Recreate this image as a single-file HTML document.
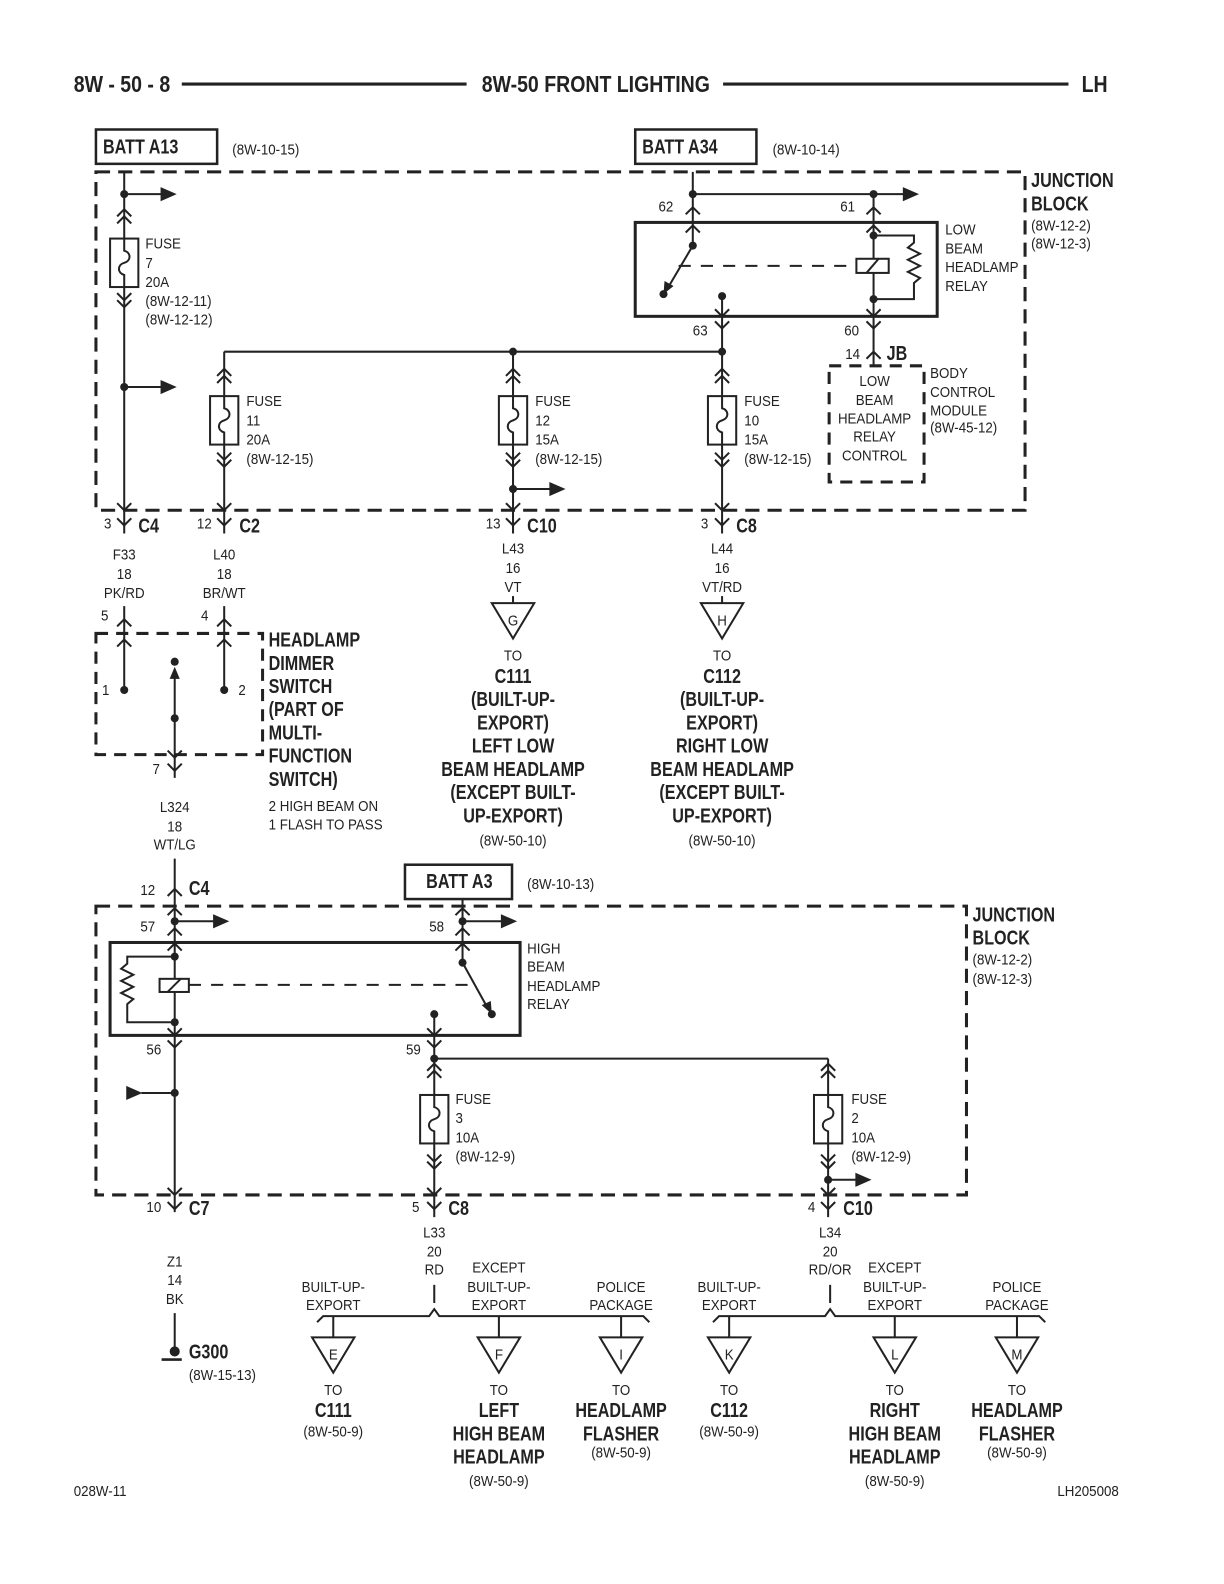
<!DOCTYPE html>
<html><head><meta charset="utf-8"><style>
html,body{margin:0;padding:0;background:#fff}
svg{display:block}
text{font-family:"Liberation Sans Narrow","Liberation Sans",sans-serif;fill:#222;transform-box:fill-box;transform-origin:0 50%;transform:scaleX(.88)}
text.c{transform-origin:50% 50%}
.s{font-size:15px}
.b text,text.b{font-size:20px;font-weight:bold;transform:scaleX(.8)}
text.h{font-size:23px;font-weight:bold;transform:scaleX(.84)}
.c{text-anchor:middle}
</style></head><body>
<svg width="1224" height="1584" viewBox="0 0 1212 1568" xmlns="http://www.w3.org/2000/svg">
<defs>
<path id="cu" d="M-7,7 L0,0 L7,7" fill="none" stroke="#222" stroke-width="2"/>
<path id="cd" d="M-7,-7 L0,0 L7,-7" fill="none" stroke="#222" stroke-width="2"/>
<g id="fz"><rect x="-14" y="-24" width="28" height="48" fill="#fff" stroke="#222" stroke-width="2"/><path d="M0,-24 V-12 C7,-10 7,-2 0,0 C-7,2 -7,10 0,12 V24" fill="none" stroke="#222" stroke-width="2"/></g>
<polygon id="ar" points="0,-7 16,0 0,7" fill="#222"/>
<polygon id="tri" points="-21,0 21,0 0,35" fill="#fff" stroke="#222" stroke-width="2"/>
</defs>
<g stroke="#222" fill="none" stroke-width="2">
<line x1="180" y1="83" x2="462" y2="83" stroke-width="3"/>
<line x1="716" y1="83" x2="1058" y2="83" stroke-width="3"/>
<rect x="95" y="128" width="120" height="34" stroke-width="2.5"/>
<rect x="629" y="128" width="120" height="34" stroke-width="2.5"/>
<rect x="95" y="170" width="920" height="335" stroke-width="3" stroke-dasharray="14 8"/>
<line x1="123" y1="170" x2="123" y2="528"/>
<line x1="123" y1="192" x2="160" y2="192"/><line x1="123" y1="383" x2="160" y2="383"/>
<line x1="222" y1="348" x2="715" y2="348"/>
<line x1="222" y1="348" x2="222" y2="528"/>
<line x1="508" y1="348" x2="508" y2="528"/>
<line x1="508" y1="484" x2="545" y2="484"/>
<line x1="715" y1="293" x2="715" y2="528"/>
<rect x="629" y="220" width="299" height="93" stroke-width="3"/>
<line x1="686" y1="170" x2="686" y2="243"/>
<line x1="686" y1="192" x2="895" y2="192"/>
<line x1="865" y1="192" x2="865" y2="362"/>
<line x1="686" y1="243" x2="660" y2="287"/>
<line x1="672" y1="263" x2="848" y2="263" stroke-dasharray="12 10"/>
<rect x="848" y="256" width="32" height="14" fill="#fff"/><line x1="858" y1="270" x2="870" y2="256"/>
<path d="M865,233 H905 V240 l-6,5 l12,6 l-12,6 l12,6 l-12,6 l12,6 l-6,5 V296 H865"/>
<rect x="821" y="362" width="94" height="115" stroke-width="3" stroke-dasharray="12 8"/>
<line x1="508" y1="590" x2="508" y2="597"/><line x1="715" y1="590" x2="715" y2="597"/>
<rect x="95" y="627" width="165" height="120" stroke-width="3" stroke-dasharray="12 8"/>
<line x1="123" y1="600" x2="123" y2="683"/><line x1="222" y1="600" x2="222" y2="683"/>
<line x1="173" y1="670" x2="173" y2="770"/>
<line x1="173" y1="850" x2="173" y2="1200"/>
<rect x="401" y="856" width="106" height="34" stroke-width="2.5"/>
<rect x="95" y="897" width="862" height="286" stroke-width="3" stroke-dasharray="14 8"/>
<rect x="109" y="933" width="406" height="92" stroke-width="3"/>
<line x1="173" y1="912" x2="212" y2="912"/>
<line x1="458" y1="890" x2="458" y2="953"/>
<line x1="458" y1="912" x2="497" y2="912"/>
<line x1="458" y1="953" x2="484" y2="1000"/>
<line x1="187" y1="975" x2="470" y2="975" stroke-dasharray="12 10"/>
<rect x="158" y="969" width="29" height="13" fill="#fff"/><line x1="166" y1="982" x2="179" y2="969"/>
<path d="M173,947 H126 V954 l-6,5 l12,6 l-12,6 l12,6 l-12,6 l12,6 l-6,5 V1012 H173"/>
<line x1="140" y1="1082" x2="173" y2="1082"/>
<line x1="430" y1="1004" x2="430" y2="1205"/>
<line x1="430" y1="1048" x2="820" y2="1048"/>
<line x1="820" y1="1048" x2="820" y2="1205"/>
<line x1="820" y1="1168" x2="848" y2="1168"/>
<line x1="173" y1="1300" x2="173" y2="1336"/>
<line x1="160" y1="1346" x2="180" y2="1346" stroke-width="2.5"/>
<line x1="430" y1="1272" x2="430" y2="1290"/><line x1="822" y1="1272" x2="822" y2="1290"/>
<path d="M314,1309 L320,1303 H425 L430,1296 L435,1303 H637 L643,1309"/>
<path d="M706,1309 L712,1303 H817 L822,1296 L827,1303 H1029 L1035,1309"/>
<line x1="330" y1="1303" x2="330" y2="1324"/><line x1="494" y1="1303" x2="494" y2="1324"/><line x1="615" y1="1303" x2="615" y2="1324"/>
<line x1="722" y1="1303" x2="722" y2="1324"/><line x1="886" y1="1303" x2="886" y2="1324"/><line x1="1007" y1="1303" x2="1007" y2="1324"/>
</g>
<use href="#fz" x="123" y="260"/><use href="#fz" x="222" y="416"/><use href="#fz" x="508" y="416"/><use href="#fz" x="715" y="416"/>
<use href="#fz" x="430" y="1108"/><use href="#fz" x="820" y="1108"/>
<use href="#cu" x="123" y="207"/><use href="#cu" x="123" y="214"/><use href="#cd" x="123" y="297"/><use href="#cd" x="123" y="304"/>
<use href="#cd" x="123" y="505"/><use href="#cd" x="123" y="520"/>
<g id="f4"><use href="#cu" x="222" y="365"/><use href="#cu" x="222" y="372"/><use href="#cd" x="222" y="455"/><use href="#cd" x="222" y="462"/><use href="#cd" x="222" y="505"/><use href="#cd" x="222" y="520"/></g>
<use href="#f4" x="286"/><use href="#f4" x="493"/>
<use href="#cu" x="686" y="205"/><use href="#cu" x="686" y="223"/><use href="#cu" x="865" y="205"/><use href="#cu" x="865" y="223"/>
<use href="#cd" x="715" y="313"/><use href="#cd" x="715" y="325"/><use href="#cd" x="865" y="313"/><use href="#cd" x="865" y="325"/>
<use href="#cu" x="865" y="348"/>
<use href="#cu" x="123" y="613"/><use href="#cu" x="123" y="633"/><use href="#cu" x="222" y="613"/><use href="#cu" x="222" y="633"/>
<use href="#cd" x="173" y="750"/><use href="#cd" x="173" y="763"/>
<use href="#cu" x="173" y="880"/>
<use href="#cu" x="173" y="899"/><use href="#cu" x="173" y="919"/><use href="#cu" x="173" y="934"/>
<use href="#cu" x="458" y="899"/><use href="#cu" x="458" y="919"/><use href="#cu" x="458" y="934"/>
<use href="#cd" x="173" y="1025"/><use href="#cd" x="173" y="1037"/><use href="#cd" x="430" y="1025"/><use href="#cd" x="430" y="1037"/>
<use href="#cu" x="430" y="1053"/><use href="#cu" x="430" y="1060"/><use href="#cd" x="430" y="1150"/><use href="#cd" x="430" y="1157"/>
<use href="#cu" x="820" y="1053"/><use href="#cu" x="820" y="1060"/><use href="#cd" x="820" y="1150"/><use href="#cd" x="820" y="1157"/>
<use href="#cd" x="173" y="1183"/><use href="#cd" x="173" y="1197"/><use href="#cd" x="430" y="1183"/><use href="#cd" x="430" y="1197"/><use href="#cd" x="820" y="1183"/><use href="#cd" x="820" y="1197"/>
<use href="#ar" x="159" y="192"/><use href="#ar" x="159" y="383"/><use href="#ar" x="544" y="484"/><use href="#ar" x="894" y="192"/>
<use href="#ar" x="211" y="912"/><use href="#ar" x="496" y="912"/><use href="#ar" x="847" y="1168"/>
<polygon points="125,1075 141,1082 125,1089" fill="#222"/>
<polygon points="173,660 168,672 178,672" fill="#222"/>
<polygon points="657,291 658,278 667,283" fill="#222"/>
<polygon points="487,1004 477,995 486,991" fill="#222"/>
<g fill="#222">
<circle cx="123" cy="192" r="4"/><circle cx="123" cy="383" r="4"/><circle cx="508" cy="348" r="4"/><circle cx="715" cy="348" r="4"/><circle cx="508" cy="484" r="4"/>
<circle cx="686" cy="192" r="4"/><circle cx="865" cy="192" r="4"/><circle cx="686" cy="243" r="4"/><circle cx="657" cy="291" r="4"/><circle cx="715" cy="293" r="4"/><circle cx="865" cy="233" r="4"/><circle cx="865" cy="296" r="4"/>
<circle cx="123" cy="683" r="4"/><circle cx="222" cy="683" r="4"/><circle cx="173" cy="655" r="4"/><circle cx="173" cy="711" r="4"/>
<circle cx="173" cy="912" r="4"/><circle cx="458" cy="912" r="4"/><circle cx="173" cy="947" r="4"/><circle cx="173" cy="1012" r="4"/><circle cx="458" cy="953" r="4"/><circle cx="487" cy="1004" r="4"/><circle cx="430" cy="1004" r="4"/>
<circle cx="430" cy="1048" r="4"/><circle cx="173" cy="1082" r="4"/><circle cx="820" cy="1168" r="4"/>
<circle cx="173" cy="1338" r="5"/>
</g>
<use href="#tri" x="508" y="597"/><use href="#tri" x="715" y="597"/>
<use href="#tri" x="330" y="1324"/><use href="#tri" x="494" y="1324"/><use href="#tri" x="615" y="1324"/>
<use href="#tri" x="722" y="1324"/><use href="#tri" x="886" y="1324"/><use href="#tri" x="1007" y="1324"/>

<text x="73" y="91" class="h">8W - 50 - 8</text>
<text x="590" y="91" class="h c">8W-50 FRONT LIGHTING</text>
<text x="1071" y="91" class="h">LH</text>
<text x="102" y="152" class="b">BATT A13</text><text x="230" y="153" class="s">(8W-10-15)</text>
<text x="636" y="152" class="b">BATT A34</text><text x="765" y="153" class="s">(8W-10-14)</text>
<text x="1021" y="185" class="b">JUNCTION</text><text x="1021" y="208" class="b">BLOCK</text>
<text x="1021" y="228" class="s">(8W-12-2)</text><text x="1021" y="246" class="s">(8W-12-3)</text>
<g class="s">
<text x="144" y="246">FUSE</text><text x="144" y="265">7</text><text x="144" y="284">20A</text><text x="144" y="303">(8W-12-11)</text><text x="144" y="321">(8W-12-12)</text>
<text x="244" y="402">FUSE</text><text x="244" y="421">11</text><text x="244" y="440">20A</text><text x="244" y="459">(8W-12-15)</text>
<text x="530" y="402">FUSE</text><text x="530" y="421">12</text><text x="530" y="440">15A</text><text x="530" y="459">(8W-12-15)</text>
<text x="737" y="402">FUSE</text><text x="737" y="421">10</text><text x="737" y="440">15A</text><text x="737" y="459">(8W-12-15)</text>
<text x="652" y="209">62</text><text x="832" y="209">61</text>
<text x="686" y="332">63</text><text x="836" y="332">60</text><text x="837" y="355">14</text>
<text x="936" y="232">LOW</text><text x="936" y="251">BEAM</text><text x="936" y="269">HEADLAMP</text><text x="936" y="288">RELAY</text>
<text x="866" y="382" class="c">LOW</text><text x="866" y="401" class="c">BEAM</text><text x="866" y="419" class="c">HEADLAMP</text><text x="866" y="437" class="c">RELAY</text><text x="866" y="456" class="c">CONTROL</text>
<text x="921" y="374">BODY</text><text x="921" y="393">CONTROL</text><text x="921" y="411">MODULE</text><text x="921" y="428">(8W-45-12)</text>
<text x="103" y="523">3</text><text x="195" y="523">12</text><text x="481" y="523">13</text><text x="694" y="523">3</text>
<text x="123" y="554" class="c">F33</text><text x="123" y="573" class="c">18</text><text x="123" y="592" class="c">PK/RD</text>
<text x="222" y="554" class="c">L40</text><text x="222" y="573" class="c">18</text><text x="222" y="592" class="c">BR/WT</text>
<text x="508" y="548" class="c">L43</text><text x="508" y="567" class="c">16</text><text x="508" y="586" class="c">VT</text>
<text x="715" y="548" class="c">L44</text><text x="715" y="567" class="c">16</text><text x="715" y="586" class="c">VT/RD</text>
<text x="508" y="619" class="c">G</text><text x="715" y="619" class="c">H</text>
<text x="508" y="654" class="c">TO</text><text x="715" y="654" class="c">TO</text>
<text x="508" y="837" class="c">(8W-50-10)</text><text x="715" y="837" class="c">(8W-50-10)</text>
<text x="100" y="614">5</text><text x="199" y="614">4</text><text x="101" y="688">1</text><text x="236" y="688">2</text><text x="151" y="766">7</text>
<text x="266" y="803">2 HIGH BEAM ON</text><text x="266" y="821">1 FLASH TO PASS</text>
<text x="173" y="804" class="c">L324</text><text x="173" y="823" class="c">18</text><text x="173" y="841" class="c">WT/LG</text>
<text x="139" y="886">12</text>
<text x="522" y="880">(8W-10-13)</text>
<text x="963" y="955">(8W-12-2)</text><text x="963" y="974">(8W-12-3)</text>
<text x="139" y="922">57</text><text x="425" y="922">58</text><text x="145" y="1044">56</text><text x="402" y="1044">59</text>
<text x="522" y="944">HIGH</text><text x="522" y="962">BEAM</text><text x="522" y="981">HEADLAMP</text><text x="522" y="999">RELAY</text>
<text x="451" y="1093">FUSE</text><text x="451" y="1112">3</text><text x="451" y="1131">10A</text><text x="451" y="1150">(8W-12-9)</text>
<text x="843" y="1093">FUSE</text><text x="843" y="1112">2</text><text x="843" y="1131">10A</text><text x="843" y="1150">(8W-12-9)</text>
<text x="145" y="1200">10</text><text x="408" y="1200">5</text><text x="800" y="1200">4</text>
<text x="173" y="1254" class="c">Z1</text><text x="173" y="1272" class="c">14</text><text x="173" y="1291" class="c">BK</text>
<text x="187" y="1366">(8W-15-13)</text>
<text x="430" y="1225" class="c">L33</text><text x="430" y="1244" class="c">20</text><text x="430" y="1262" class="c">RD</text>
<text x="822" y="1225" class="c">L34</text><text x="822" y="1244" class="c">20</text><text x="822" y="1262" class="c">RD/OR</text>
<text x="330" y="1279" class="c">BUILT-UP-</text><text x="330" y="1297" class="c">EXPORT</text>
<text x="494" y="1260" class="c">EXCEPT</text><text x="494" y="1279" class="c">BUILT-UP-</text><text x="494" y="1297" class="c">EXPORT</text>
<text x="615" y="1279" class="c">POLICE</text><text x="615" y="1297" class="c">PACKAGE</text>
<text x="722" y="1279" class="c">BUILT-UP-</text><text x="722" y="1297" class="c">EXPORT</text>
<text x="886" y="1260" class="c">EXCEPT</text><text x="886" y="1279" class="c">BUILT-UP-</text><text x="886" y="1297" class="c">EXPORT</text>
<text x="1007" y="1279" class="c">POLICE</text><text x="1007" y="1297" class="c">PACKAGE</text>
<text x="330" y="1346" class="c">E</text><text x="494" y="1346" class="c">F</text><text x="615" y="1346" class="c">I</text>
<text x="722" y="1346" class="c">K</text><text x="886" y="1346" class="c">L</text><text x="1007" y="1346" class="c">M</text>
<text x="330" y="1381" class="c">TO</text><text x="494" y="1381" class="c">TO</text><text x="615" y="1381" class="c">TO</text>
<text x="722" y="1381" class="c">TO</text><text x="886" y="1381" class="c">TO</text><text x="1007" y="1381" class="c">TO</text>
<text x="330" y="1422" class="c">(8W-50-9)</text><text x="494" y="1471" class="c">(8W-50-9)</text><text x="615" y="1443" class="c">(8W-50-9)</text>
<text x="722" y="1422" class="c">(8W-50-9)</text><text x="886" y="1471" class="c">(8W-50-9)</text><text x="1007" y="1443" class="c">(8W-50-9)</text>
<text x="73" y="1481">028W-11</text><text x="1047" y="1481">LH205008</text>
</g>
<g class="b">
<text x="137" y="527">C4</text><text x="237" y="527">C2</text><text x="522" y="527">C10</text><text x="729" y="527">C8</text>
<text x="878" y="356">JB</text>
<text x="508" y="676" class="c">C111</text><text x="508" y="699" class="c">(BUILT-UP-</text><text x="508" y="722" class="c">EXPORT)</text><text x="508" y="745" class="c">LEFT LOW</text><text x="508" y="768" class="c">BEAM HEADLAMP</text><text x="508" y="791" class="c">(EXCEPT BUILT-</text><text x="508" y="814" class="c">UP-EXPORT)</text>
<text x="715" y="676" class="c">C112</text><text x="715" y="699" class="c">(BUILT-UP-</text><text x="715" y="722" class="c">EXPORT)</text><text x="715" y="745" class="c">RIGHT LOW</text><text x="715" y="768" class="c">BEAM HEADLAMP</text><text x="715" y="791" class="c">(EXCEPT BUILT-</text><text x="715" y="814" class="c">UP-EXPORT)</text>
<text x="266" y="640">HEADLAMP</text><text x="266" y="663">DIMMER</text><text x="266" y="686">SWITCH</text><text x="266" y="709">(PART OF</text><text x="266" y="732">MULTI-</text><text x="266" y="755">FUNCTION</text><text x="266" y="778">SWITCH)</text>
<text x="187" y="886">C4</text>
<text x="422" y="879">BATT A3</text>
<text x="963" y="912">JUNCTION</text><text x="963" y="935">BLOCK</text>
<text x="187" y="1203">C7</text><text x="444" y="1203">C8</text><text x="835" y="1203">C10</text>
<text x="187" y="1345">G300</text>
<text x="330" y="1403" class="c">C111</text>
<text x="494" y="1403" class="c">LEFT</text><text x="494" y="1426" class="c">HIGH BEAM</text><text x="494" y="1449" class="c">HEADLAMP</text>
<text x="615" y="1403" class="c">HEADLAMP</text><text x="615" y="1426" class="c">FLASHER</text>
<text x="722" y="1403" class="c">C112</text>
<text x="886" y="1403" class="c">RIGHT</text><text x="886" y="1426" class="c">HIGH BEAM</text><text x="886" y="1449" class="c">HEADLAMP</text>
<text x="1007" y="1403" class="c">HEADLAMP</text><text x="1007" y="1426" class="c">FLASHER</text>
</g>
</svg>
</body></html>
